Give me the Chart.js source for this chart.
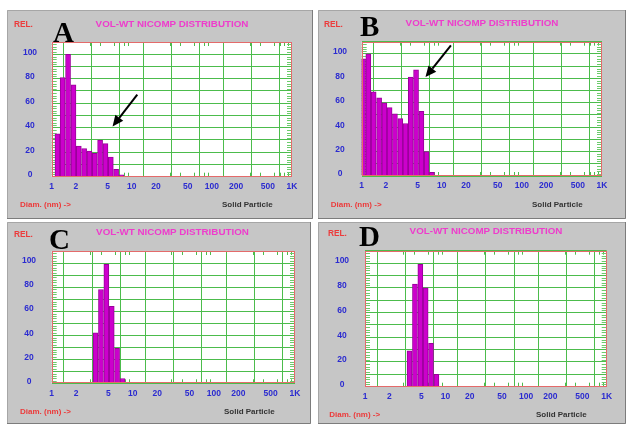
<!DOCTYPE html>
<html>
<head>
<meta charset="utf-8">
<script src="https://cdn.jsdelivr.net/npm/chart.js@4.4.0/dist/chart.umd.min.js"></script>
<style>
  body { margin: 0; background: #fff; width: 626px; height: 424px; overflow: hidden; position: relative;
         font-family: "Liberation Sans", Arial, sans-serif; }
  canvas { position: absolute; }
  .txt { position: absolute; font-weight: bold; white-space: nowrap; line-height: 1; z-index: 2; }
  .rel { font-size: 8.3px; color: #ec3a3a; }
  .title { font-size: 9.8px; color: #ee3ccc; transform: translateX(-50%); }
  .diam { font-size: 8px; color: #ec3a3a; }
  .solid { font-size: 8px; color: #333; }
  .letter { font-family: "Liberation Serif", "Times New Roman", serif; font-size: 29px; color: #000; }
</style>
</head>
<body>
<canvas id="chart-a" width="306" height="209" style="left:7px;top:10px"></canvas>
<canvas id="chart-b" width="308" height="209" style="left:318px;top:10px"></canvas>
<canvas id="chart-c" width="304" height="202" style="left:7px;top:222px"></canvas>
<canvas id="chart-d" width="308" height="202" style="left:318px;top:222px"></canvas>

<!-- panel A -->
<div class="txt rel" style="left:14px;top:20px">REL.</div>
<div class="txt title" style="left:172px;top:18.5px">VOL-WT NICOMP DISTRIBUTION</div>
<div class="txt letter" style="left:53px;top:18px">A</div>
<div class="txt diam" style="left:20px;top:201px">Diam. (nm) -&gt;</div>
<div class="txt solid" style="left:222px;top:201px">Solid Particle</div>
<!-- panel B -->
<div class="txt rel" style="left:324px;top:19.7px">REL.</div>
<div class="txt title" style="left:482px;top:17.7px">VOL-WT NICOMP DISTRIBUTION</div>
<div class="txt letter" style="left:360px;top:12px">B</div>
<div class="txt diam" style="left:330.7px;top:200.7px">Diam. (nm) -&gt;</div>
<div class="txt solid" style="left:532px;top:200.7px">Solid Particle</div>
<!-- panel C -->
<div class="txt rel" style="left:14px;top:230px">REL.</div>
<div class="txt title" style="left:172.5px;top:227.2px">VOL-WT NICOMP DISTRIBUTION</div>
<div class="txt letter" style="left:49px;top:225px">C</div>
<div class="txt diam" style="left:20px;top:407.5px">Diam. (nm) -&gt;</div>
<div class="txt solid" style="left:224px;top:407.5px">Solid Particle</div>
<!-- panel D -->
<div class="txt rel" style="left:328px;top:228.8px">REL.</div>
<div class="txt title" style="left:486px;top:225.7px">VOL-WT NICOMP DISTRIBUTION</div>
<div class="txt letter" style="left:359px;top:221.6px">D</div>
<div class="txt diam" style="left:329.3px;top:410.5px">Diam. (nm) -&gt;</div>
<div class="txt solid" style="left:536px;top:410.5px">Solid Particle</div>

<script>
// axis ticks
const diamTicks = [1, 2, 5, 10, 20, 50, 100, 200, 500, 1000];
const diamMinor = [3, 4, 6, 7, 8, 9, 30, 40, 60, 70, 80, 90, 300, 400, 600, 700, 800, 900];
const relLabels = [0, 20, 40, 60, 80, 100];

// panel A
const diamA = [1.18, 1.37, 1.6, 1.87, 2.18, 2.54, 2.96, 3.45, 4.02, 4.69, 5.47, 6.37, 7.43];
const relA = [35, 81, 100, 75, 25, 23, 21, 19, 30, 27, 16, 6, 1.5];
const arrowA = { from: [11.7, 67], to: [5.75, 41] };

// panel B
const diamB = [1.04, 1.21, 1.41, 1.65, 1.92, 2.23, 2.6, 3.03, 3.52, 4.1, 4.77, 5.56, 6.47, 7.53];
const relB = [96, 100, 69, 64, 60, 56, 51, 47, 43, 81, 87, 53, 20, 3];
const arrowB = { from: [13, 107], to: [6.26, 81] };

// panel C
const diamC = [3.47, 4.05, 4.72, 5.5, 6.4, 7.47];
const relC = [42, 78, 99, 64, 29, 4];

// panel D
const diamD = [3.57, 4.17, 4.86, 5.66, 6.6, 7.7];
const relD = [29, 83, 99, 80, 35, 10];

const gridGreen = '#4cbc4c';
const minorGreen = '#6ccc6c';
const tickBlue = '#2b2bd0';

// grey panel, white plot, minor ticks, red frame, arrow
const panelPlugin = {
    id: 'panel',
    beforeDraw(chart) {
        const { ctx, width, height, chartArea: a } = chart;
        ctx.save();
        ctx.fillStyle = '#c6c6c6';
        ctx.fillRect(0, 0, width, height);
        ctx.lineWidth = 1;
        ctx.strokeStyle = '#a6a6a6';
        ctx.beginPath();
        ctx.moveTo(0.5, height);
        ctx.lineTo(0.5, 0.5);
        ctx.lineTo(width, 0.5);
        ctx.stroke();
        ctx.strokeStyle = '#7c7c7c';
        ctx.beginPath();
        ctx.moveTo(width - 0.5, 0);
        ctx.lineTo(width - 0.5, height - 0.5);
        ctx.lineTo(0, height - 0.5);
        ctx.stroke();
        ctx.fillStyle = '#fff';
        ctx.fillRect(a.left, a.top, a.right - a.left, a.bottom - a.top);
        ctx.restore();
    },
    beforeDatasetsDraw(chart) {
        const { ctx, chartArea: a, scales } = chart;
        ctx.save();
        ctx.strokeStyle = gridGreen;
        ctx.lineWidth = 1;
        ctx.beginPath();
        diamMinor.forEach(v => {
            const x = Math.round(scales.x.getPixelForValue(v)) + 0.5;
            ctx.moveTo(x, a.top); ctx.lineTo(x, a.top + 4);
            ctx.moveTo(x, a.bottom); ctx.lineTo(x, a.bottom - 4);
        });
        ctx.stroke();
        ctx.strokeStyle = minorGreen;
        ctx.beginPath();
        for (let v = 2; v < 110; v += 2) {
            if (v % 10 === 0) continue;
            const y = Math.round(scales.y.getPixelForValue(v)) + 0.5;
            ctx.moveTo(a.left, y); ctx.lineTo(a.left + 5, y);
            ctx.moveTo(a.right, y); ctx.lineTo(a.right - 5, y);
        }
        ctx.stroke();
        ctx.restore();
    },
    afterDatasetsDraw(chart, args, opts) {
        const { ctx, chartArea: a, scales } = chart;
        ctx.save();
        ctx.strokeStyle = '#e46a6a';
        ctx.lineWidth = 1;
        ctx.strokeRect(Math.round(a.left) + 0.5, Math.round(a.top) + 0.5,
            Math.round(a.right - a.left) - 1, Math.round(a.bottom - a.top) - 1);

        if (opts.arrow) {
            const x0 = scales.x.getPixelForValue(opts.arrow.from[0]);
            const y0 = scales.y.getPixelForValue(opts.arrow.from[1]);
            const x1 = scales.x.getPixelForValue(opts.arrow.to[0]);
            const y1 = scales.y.getPixelForValue(opts.arrow.to[1]);
            const ang = Math.atan2(y1 - y0, x1 - x0);
            const head = 11, half = 5;
            const bx = x1 - head * Math.cos(ang);
            const by = y1 - head * Math.sin(ang);
            ctx.strokeStyle = '#000';
            ctx.fillStyle = '#000';
            ctx.lineWidth = 2;
            ctx.beginPath();
            ctx.moveTo(x0, y0);
            ctx.lineTo(bx, by);
            ctx.stroke();
            ctx.beginPath();
            ctx.moveTo(x1, y1);
            ctx.lineTo(bx + half * Math.sin(ang), by - half * Math.cos(ang));
            ctx.lineTo(bx - half * Math.sin(ang), by + half * Math.cos(ang));
            ctx.closePath();
            ctx.fill();
        }
        ctx.restore();
    }
};

// box = plot area inside the canvas, labelX = centre of the y labels
function makePanel(id, diam, rel, box, arrow) {
    const canvas = document.getElementById(id);
    const tickFont = { family: '"Liberation Sans", Arial, sans-serif', size: 8.5, weight: 'bold' };
    const xAxisHeight = 18;

    return new Chart(canvas.getContext('2d'), {
        type: 'bar',
        data: {
            datasets: [{
                data: diam.map((d, i) => ({ x: d, y: rel[i] })),
                backgroundColor: '#cc00cc',
                borderColor: '#9a009a',
                borderWidth: 1,
                barThickness: 5
            }]
        },
        options: {
            responsive: false,
            animation: false,
            devicePixelRatio: 1,
            events: [],
            layout: {
                padding: {
                    left: 0,
                    top: box.top,
                    right: canvas.width - box.right,
                    bottom: canvas.height - box.bottom - xAxisHeight
                }
            },
            plugins: {
                legend: { display: false },
                tooltip: { enabled: false },
                panel: { arrow: arrow }
            },
            scales: {
                x: {
                    type: 'logarithmic',
                    min: 1,
                    max: 1000,
                    afterBuildTicks: s => { s.ticks = diamTicks.map(v => ({ value: v })); },
                    afterFit: s => { s.height = xAxisHeight; },
                    border: { display: false },
                    grid: { color: gridGreen, drawTicks: false },
                    ticks: {
                        autoSkip: false,
                        maxRotation: 0,
                        padding: 5,
                        color: tickBlue,
                        font: tickFont,
                        callback: v => (v === 1000 ? '1K' : String(v))
                    }
                },
                y: {
                    min: 0,
                    max: 110,
                    afterFit: s => { s.width = box.left; },
                    border: { display: false },
                    grid: { color: gridGreen, drawTicks: false },
                    ticks: {
                        stepSize: 10,
                        autoSkip: false,
                        crossAlign: 'center',
                        padding: box.left - box.labelX - 7.1,
                        labelOffset: -2,
                        color: tickBlue,
                        font: tickFont,
                        callback: v => (relLabels.includes(v) ? String(v) : '')
                    }
                }
            }
        },
        plugins: [panelPlugin]
    });
}

makePanel('chart-a', diamA, relA, { left: 44.7, right: 285, top: 32, bottom: 166.7, labelX: 23 }, arrowA);
makePanel('chart-b', diamB, relB, { left: 43.7, right: 284, top: 31.7, bottom: 166, labelX: 22 }, arrowB);
makePanel('chart-c', diamC, relC, { left: 44.7, right: 288, top: 29, bottom: 161.3, labelX: 22 }, null);
makePanel('chart-d', diamD, relD, { left: 47, right: 288.7, top: 28.7, bottom: 164.7, labelX: 24 }, null);
</script>
</body>
</html>
